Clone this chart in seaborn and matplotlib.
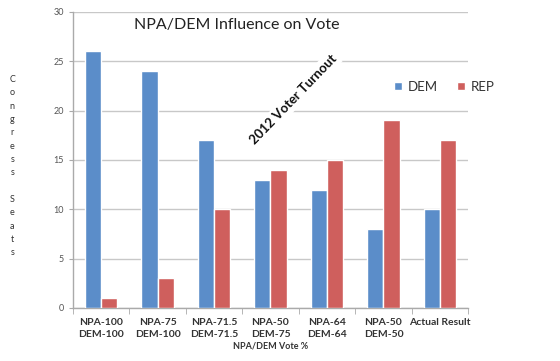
import numpy as np
import pandas as pd
import matplotlib
matplotlib.use("Agg")
import matplotlib.pyplot as plt
import seaborn as sns

# Datos del grafico
escenarios = ["NPA-100\nDEM-100", "NPA-75\nDEM-100", "NPA-71.5\nDEM-71.5",
              "NPA-50\nDEM-75", "NPA-64\nDEM-64", "NPA-50\nDEM-50", "Actual Result"]
dem = [26, 24, 17, 13, 12, 8, 10]
rep = [1, 3, 10, 14, 15, 19, 17]
partidos = ["DEM", "REP"]
colores = ["#5B8DC9", "#CF5F5D"]

df = pd.DataFrame({
    "Escenario": escenarios * 2,
    "Partido": ["DEM"] * len(dem) + ["REP"] * len(rep),
    "Asientos": dem + rep,
})

sns.set_style("white")
plt.rcParams["font.family"] = ["Lato", "DejaVu Sans"]

fig = plt.figure(figsize=(5.6, 3.61), dpi=100)
ax = fig.add_axes([0.130, 0.147, 0.706, 0.820])

sns.barplot(data=df, x="Escenario", y="Asientos", hue="Partido", hue_order=partidos,
            palette=colores, width=0.58, gap=0, saturation=1, ax=ax, zorder=3)

ax.set_ylim(0, 30)
ax.set_yticks(range(0, 31, 5))
ax.set_xlim(-0.5, len(escenarios) - 0.5)
ax.yaxis.grid(True, color="#C8C8C8", linewidth=1, zorder=0)
ax.set_axisbelow(True)

for lado in ["top", "right"]:
    ax.spines[lado].set_visible(False)
for lado in ["left", "bottom"]:
    ax.spines[lado].set_color("#AAAAAA")
    ax.spines[lado].set_linewidth(1)

ax.set_xticks(np.arange(len(escenarios)))
ax.set_xticklabels(escenarios, fontsize=7.5, fontweight="bold", color="#333333",
                   linespacing=1.45)
ax.set_xticks(np.arange(-0.5, len(escenarios)), minor=True)
ax.tick_params(axis="x", which="major", length=0, pad=7)
ax.tick_params(axis="x", which="minor", length=4, color="#AAAAAA", direction="out", bottom=True)
ax.tick_params(axis="y", length=3, color="#AAAAAA", direction="out", left=True,
               labelsize=6.5, labelcolor="#555555")

ax.set_xlabel("NPA/DEM Vote %", fontsize=6.5, fontweight="bold", color="#333333", labelpad=2)
ax.set_ylabel("")

fig.text(0.022, 0.54, "\n".join(list("Congress") + [""] + list("Seats")),
         ha="center", va="center", fontsize=6.5, linespacing=1.62, color="#333333")

ax.text(0.155, 0.955, "NPA/DEM Influence on Vote", transform=ax.transAxes,
        fontsize=11.5, ha="left", va="center", color="#222222",
        bbox=dict(facecolor="white", edgecolor="none", pad=1), zorder=4)

ax.text(0.557, 0.703, "2012 Voter Turnout", transform=ax.transAxes, rotation=46,
        fontsize=9.5, fontweight="bold", ha="center", va="center", color="#111111",
        bbox=dict(facecolor="white", edgecolor="none", pad=2), zorder=4)

leg = ax.legend(loc="upper left", bbox_to_anchor=(0.80, 0.785), ncol=2, frameon=False,
                fontsize=9.5, handlelength=0.6, handleheight=0.6, handletextpad=0.4,
                columnspacing=1.5, borderaxespad=0)
for t in leg.get_texts():
    t.set_color("#333333")

fig.savefig("out.png", dpi=100)
